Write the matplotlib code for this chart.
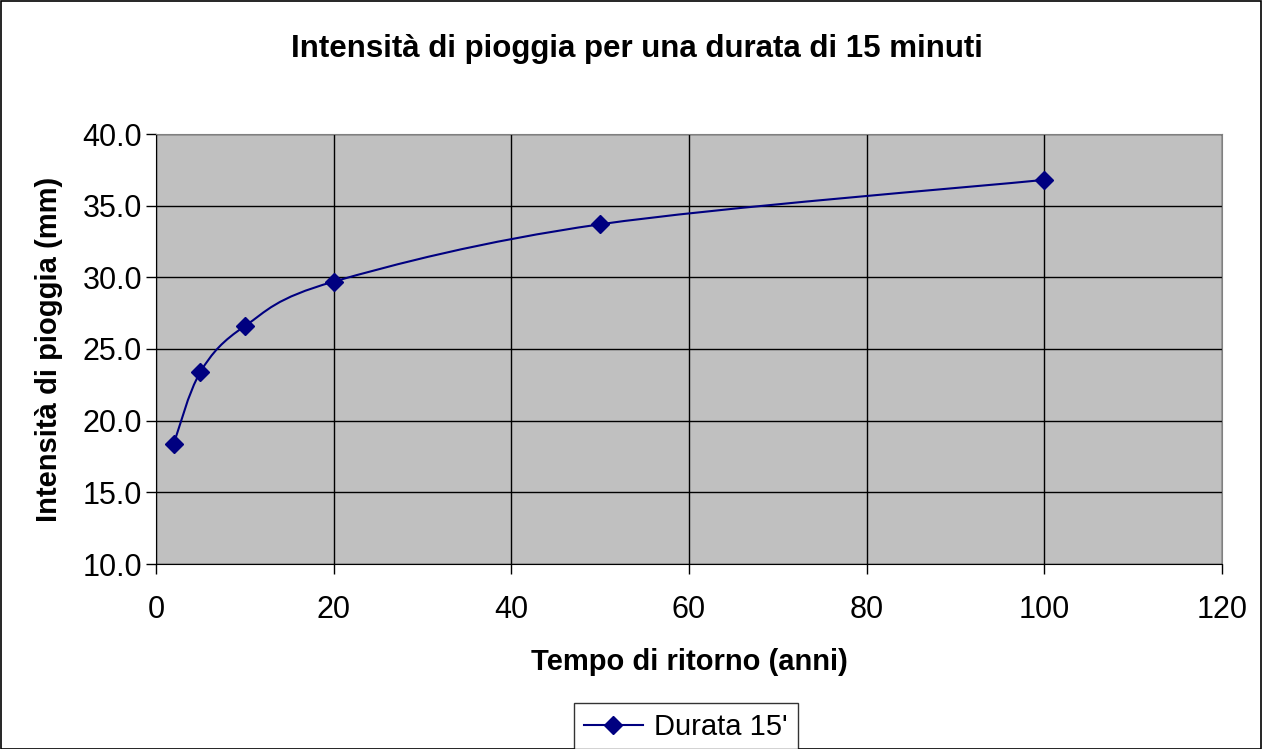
import matplotlib
matplotlib.use('Agg')
import matplotlib.pyplot as plt
from matplotlib.path import Path
from matplotlib.patches import PathPatch, Rectangle
from matplotlib.lines import Line2D
import numpy as np

plt.rcParams['font.family'] = ['Liberation Sans', 'DejaVu Sans']

# Data
tempo_ritorno = [2, 5, 10, 20, 50, 100]
intensita = [18.4, 23.4, 26.6, 29.7, 33.7, 36.8]
series_label = "Durata 15'"

title = 'Intensità di pioggia per una durata di 15 minuti'
xlabel = 'Tempo di ritorno (anni)'
ylabel = 'Intensità di pioggia (mm)'

navy = '#000080'

fig = plt.figure(figsize=(12.62, 7.49), dpi=100)
ax = fig.add_axes([156/1262, 1-564/749, (1222-156)/1262, (564-134)/749])
ax.set_facecolor('#C0C0C0')

# Excel style smoothed line: cubic Bezier segments through the points
x = np.array(tempo_ritorno, dtype=float)
y = np.array(intensita, dtype=float)
px = np.concatenate([[x[0]], x, [x[-1]]])
py = np.concatenate([[y[0]], y, [y[-1]]])
verts = [(x[0], y[0])]
codes = [Path.MOVETO]
for i in range(len(x) - 1):
    j = i + 1
    c1 = (px[j] + (px[j+1] - px[j-1]) / 6, py[j] + (py[j+1] - py[j-1]) / 6)
    c2 = (px[j+1] - (px[j+2] - px[j]) / 6, py[j+1] - (py[j+2] - py[j]) / 6)
    verts += [c1, c2, (x[j], y[j])]
    codes += [Path.CURVE4] * 3
ax.add_patch(PathPatch(Path(verts, codes), facecolor='none', edgecolor=navy, lw=1.5, zorder=3))
ax.plot(x, y, linestyle='none', marker='D', ms=9, color=navy, zorder=4)

ax.set_xlim(0, 120)
ax.set_ylim(10, 40)
ax.set_xticks(np.arange(0, 121, 20))
ax.set_yticks(np.arange(10, 41, 5))
ax.set_yticklabels(['%.1f' % v for v in np.arange(10, 41, 5)])
ax.grid(True, color='black', lw=1)
ax.set_axisbelow(True)
ax.tick_params(direction='out', length=7, width=1, labelsize=22, color='black')
ax.tick_params(axis='x', pad=15)
ax.tick_params(axis='y', pad=3)
for s in ['top', 'right']:
    ax.spines[s].set_color('#808080')
for s in ['left', 'bottom']:
    ax.spines[s].set_color('black')

ax.set_xlabel(xlabel, fontsize=21, fontweight='bold', labelpad=17)
ax.set_ylabel(ylabel, fontsize=21, fontweight='bold', labelpad=14)
fig.text(637/1262, 1-49/749, title, fontsize=22.5, fontweight='bold', ha='center', va='center')

handle = Line2D([], [], color=navy, marker='D', ms=9, lw=1.5)
leg = fig.legend([handle], [series_label], loc='upper center', bbox_to_anchor=(686/1262, 1-703/749),
                 fontsize=21, frameon=True, fancybox=False, edgecolor='black', handlelength=2.0,
                 borderpad=0.35, handletextpad=0.4, borderaxespad=0)
leg.get_frame().set_linewidth(1)

fig.patches.append(Rectangle((0.5/1262, 0), 1-1.5/1262, 1-1/749, transform=fig.transFigure,
                             fill=False, edgecolor='black', lw=1.2))

fig.savefig('out.png', dpi=100)
